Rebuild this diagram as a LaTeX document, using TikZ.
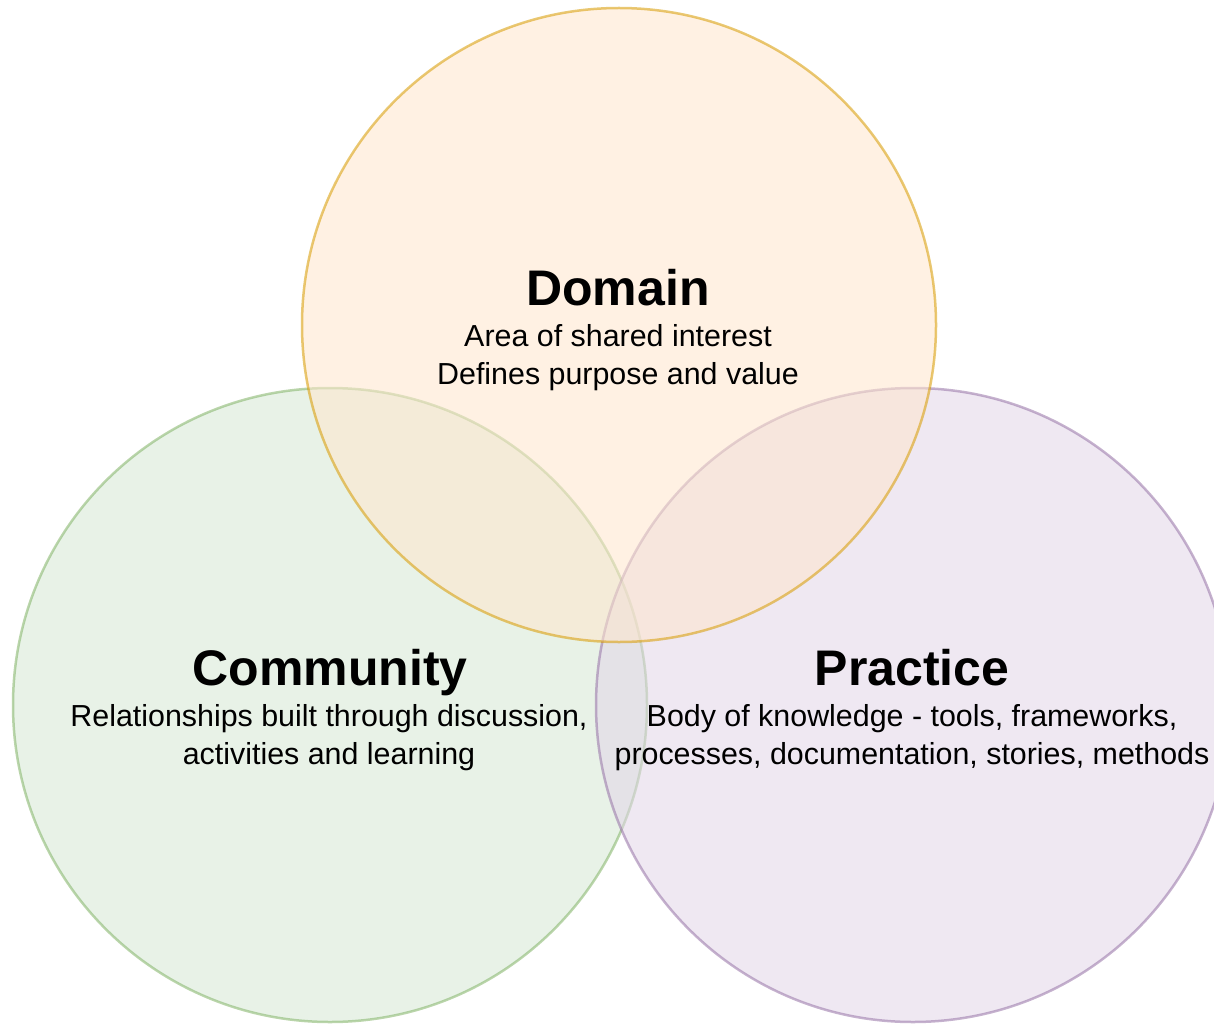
\documentclass[tikz,border=0pt]{standalone}
\usepackage{fontspec}
\setmainfont{Liberation Sans}
\definecolor{domfill}{HTML}{FFE6CC}
\definecolor{domline}{HTML}{D79B00}
\definecolor{comfill}{HTML}{D5E8D4}
\definecolor{comline}{HTML}{82B366}
\definecolor{prafill}{HTML}{E1D5E7}
\definecolor{praline}{HTML}{9673A6}
\tikzset{
  venn/.style={circle, minimum size=634pt, inner sep=0pt, line width=2.5pt, opacity=0.55},
  ttl/.style={anchor=base, font=\fontsize{50}{60}\selectfont\bfseries, inner sep=0pt},
  sub/.style={anchor=base, font=\fontsize{30.4}{38}\selectfont, inner sep=0pt},
}
\begin{document}
\begin{tikzpicture}[x=1pt,y=-1pt]
\useasboundingbox (0,0) rectangle (1214,1024);
\clip (0,0) rectangle (1214,1024);
\node[venn, draw=comline, fill=comfill] (community) at (330,705) {};
\node[venn, draw=praline, fill=prafill] (practice) at (913,705) {};
\node[venn, draw=domline, fill=domfill] (domain) at (619,325) {};
\node[ttl] (domt) at (618,305) {Domain};
\node[sub] (doma) at (618,346) {Area of shared interest};
\node[sub] (domb) at (618,384) {Defines purpose and value};
\node[ttl] (comt) at (330,685) {Community};
\node[sub] (coma) at (329,726) {Relationships built through discussion,};
\node[sub] (comb) at (329,764) {activities and learning};
\node[ttl] (prat) at (912,685) {Practice};
\node[sub] (praa) at (912,726) {Body of knowledge - tools, frameworks,};
\node[sub] (prab) at (912,764) {processes, documentation, stories, methods};
\end{tikzpicture}
\end{document}
